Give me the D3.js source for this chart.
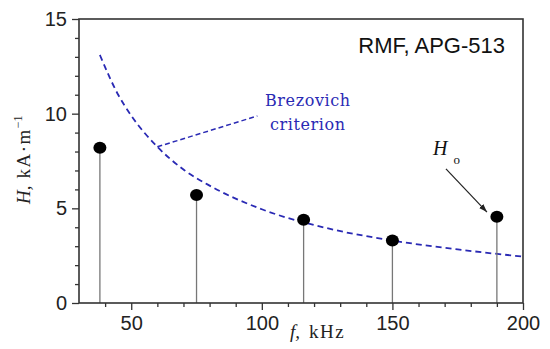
<!DOCTYPE html>
<html>
  <head>
    <meta charset="utf-8" />
    <title>RMF, APG-513</title>
    <script src="https://d3js.org/d3.v7.min.js"></script>
    <style>
      body { margin: 0; background: #fff; }
      svg { display: block; }
    </style>
  </head>
  <body>
    <div id="chart"></div>

    <script>
      // Measured field amplitudes (stems)
      const stemF = [38, 75, 116, 150, 190];
      const stemH = [8.2, 5.7, 4.4, 3.3, 4.55];

      // Brezovich criterion curve
      const critF = [38, 45, 50, 60, 70, 80, 100, 125, 150, 175, 200];
      const critH = [13.1, 11.0, 9.9, 8.25, 7.05, 6.2, 4.95, 3.95, 3.3, 2.83, 2.45];

      const xTicks = [50, 100, 150, 200];
      const yTicks = [0, 5, 10, 15];

      const width = 550, height = 349;
      const margin = { top: 19, right: 27, bottom: 46, left: 79 };

      const svg = d3.select("#chart").append("svg")
        .attr("width", width).attr("height", height);

      const x = d3.scaleLinear().domain([30, 200]).range([margin.left, width - margin.right]);
      const y = d3.scaleLinear().domain([0, 15]).range([height - margin.bottom, margin.top]);

      const axisColor = "#333";

      // x axis: major + minor ticks
      const xAxis = svg.append("g").attr("transform", `translate(0,${y(0)})`);
      xAxis.call(d3.axisBottom(x).tickValues(d3.range(40, 200, 10).filter(d => !xTicks.includes(d)))
        .tickSize(4).tickSizeOuter(0).tickFormat(""));
      xAxis.append("g").call(d3.axisBottom(x).tickValues(xTicks).tickSize(7).tickSizeOuter(0).tickPadding(6))
        .selectAll("text").attr("font-size", 20).attr("fill", "#222")
        .attr("font-family", "Liberation Sans, Arial, sans-serif");
      xAxis.selectAll(".domain").remove();
      xAxis.selectAll("line").attr("stroke", axisColor).attr("stroke-width", 1.3);

      // y axis
      const yAxis = svg.append("g").attr("transform", `translate(${x(30)},0)`);
      yAxis.call(d3.axisLeft(y).tickValues(d3.range(1, 15, 1).filter(d => !yTicks.includes(d)))
        .tickSize(4).tickSizeOuter(0).tickFormat(""));
      yAxis.append("g").call(d3.axisLeft(y).tickValues(yTicks).tickSize(7).tickSizeOuter(0).tickPadding(5))
        .selectAll("text").attr("font-size", 20).attr("fill", "#222")
        .attr("font-family", "Liberation Sans, Arial, sans-serif");
      yAxis.selectAll(".domain").remove();
      yAxis.selectAll("line").attr("stroke", axisColor).attr("stroke-width", 1.3);

      // axis titles
      const xt = svg.append("text")
        .attr("x", 290).attr("y", 338)
        .attr("font-family", "Liberation Serif, Times New Roman, serif")
        .attr("font-size", 19).attr("fill", "#222");
      xt.append("tspan").attr("font-style", "italic").text("f,");
      xt.append("tspan").attr("dx", 9).attr("letter-spacing", 1.5).text("kHz");

      const yt = svg.append("text")
        .attr("transform", "translate(30,204) rotate(-90)")
        .attr("font-family", "Liberation Serif, Times New Roman, serif")
        .attr("font-size", 19).attr("fill", "#222");
      yt.append("tspan").attr("font-style", "italic").text("H,");
      yt.append("tspan").attr("dx", 7).attr("letter-spacing", 1.5).text("kA\u00b7m");
      yt.append("tspan").attr("dy", -8).attr("font-size", 12).text("\u22121");

      // Brezovich criterion curve
      const line = d3.line().x((d, i) => x(critF[i])).y(d => y(d)).curve(d3.curveMonotoneX);
      svg.append("path")
        .attr("d", line(critH))
        .attr("fill", "none").attr("stroke", "#2a2ab4")
        .attr("stroke-width", 1.8).attr("stroke-dasharray", "6,4");

      // stems
      svg.selectAll(".stem").data(stemH).join("line").attr("class", "stem")
        .attr("x1", (d, i) => x(stemF[i])).attr("x2", (d, i) => x(stemF[i]))
        .attr("y1", d => y(d)).attr("y2", y(0))
        .attr("stroke", "#777").attr("stroke-width", 1.3);
      svg.selectAll(".dot").data(stemH).join("ellipse").attr("class", "dot")
        .attr("cx", (d, i) => x(stemF[i])).attr("cy", d => y(d))
        .attr("rx", 6.5).attr("ry", 6).attr("fill", "#000");

      // title
      svg.append("text")
        .attr("x", 505).attr("y", 53).attr("text-anchor", "end")
        .attr("font-family", "Liberation Sans, Arial, sans-serif")
        .attr("font-size", 22).attr("fill", "#111")
        .text("RMF, APG-513");

      // Brezovich annotation
      svg.append("line")
        .attr("x1", x(60)).attr("y1", y(8.25))
        .attr("x2", x(98.3)).attr("y2", y(9.88))
        .attr("stroke", "#2a2ab4").attr("stroke-width", 1.5).attr("stroke-dasharray", "5,3");
      const bz = svg.append("g")
        .attr("font-family", "DejaVu Serif, serif").attr("font-size", 16)
        .attr("fill", "#2a2ab4").attr("letter-spacing", 0.6);
      bz.append("text").attr("x", 265).attr("y", 106).text("Brezovich");
      bz.append("text").attr("x", 270).attr("y", 130).text("criterion");

      // H0 annotation
      svg.append("defs").append("marker")
        .attr("id", "arr").attr("viewBox", "0 0 10 10")
        .attr("refX", 10).attr("refY", 5)
        .attr("markerWidth", 7).attr("markerHeight", 7)
        .attr("orient", "auto")
        .append("path").attr("d", "M0,1.5 L10,5 L0,8.5 Z").attr("fill", "#222");
      svg.append("line")
        .attr("x1", x(170.5)).attr("y1", y(7.08))
        .attr("x2", x(186.2)).attr("y2", y(4.8))
        .attr("stroke", "#222").attr("stroke-width", 1.2)
        .attr("marker-end", "url(#arr)");
      const h0 = svg.append("text")
        .attr("x", 433).attr("y", 155)
        .attr("font-family", "Liberation Serif, Times New Roman, serif")
        .attr("font-size", 20).attr("fill", "#111");
      h0.append("tspan").attr("font-style", "italic").text("H");
      h0.append("tspan").attr("dx", 6).attr("dy", 9).attr("font-size", 13).text("o");

      // frame around the plot area, drawn last
      svg.append("rect")
        .attr("x", x(30)).attr("y", y(15))
        .attr("width", x(200) - x(30)).attr("height", y(0) - y(15))
        .attr("fill", "none").attr("stroke", "#333").attr("stroke-width", 1.6);
    </script>
  </body>
</html>
